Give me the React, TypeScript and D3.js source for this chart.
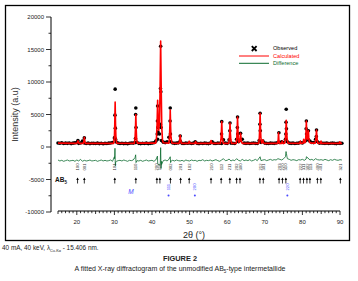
import React from "react";
import * as d3 from "d3";

const W = 358;
const H = 281;

const xTicks = [20, 30, 40, 50, 60, 70, 80, 90];
const yTicks = [-10000, -5000, 0, 5000, 10000, 15000, 20000];

// observed background on a 0.5° grid (15 … 90.5)
const obsGrid = d3.range(15, 90.51, 0.5);
const obsBaseValues = [
  620, 580, 650, 540, 600, 560, 610, 520, 590, 640,
  700, 560, 620, 900, 610, 540, 600, 520, 580, 560,
  540, 600, 520, 580, 500, 560, 530, 590, 620, 700,
  1400, 760, 600, 540, 580, 520, 560, 500, 580, 620,
  600, 680, 700, 560, 520, 580, 540, 600, 520, 560,
  600, 650, 900, 1200, 2000, 1000, 750, 680, 800, 1500,
  800, 620, 560, 600, 640, 900, 560, 540, 600, 580,
  620, 540, 600, 800, 560, 520, 580, 540, 600, 560,
  520, 600, 800, 560, 540, 600, 580, 540, 1100, 600,
  560, 1100, 600, 580, 540, 1200, 800, 1000, 1200, 600,
  560, 600, 540, 580, 620, 560, 540, 1000, 700, 900,
  600, 560, 540, 600, 580, 560, 620, 700, 700, 800,
  700, 1200, 800, 600, 560, 600, 540, 580, 600, 700,
  620, 800, 1000, 1200, 900, 700, 680, 1200, 800, 600,
  620, 580, 560, 600, 540, 580, 600, 560, 520, 580,
  560, 580,
];

// observed points on the peaks
const obsPeaks: [number, number][] = [
  [20.3, 1000], [22.0, 1400],
  [30.1, 1400], [30.15, 4900], [30.2, 8900], [30.25, 2900], [30.3, 1200],
  [35.6, 1300], [35.65, 5000], [35.7, 6000], [35.75, 3000],
  [41.4, 2000], [41.45, 4000], [41.5, 6300], [41.55, 3000], [41.6, 2300],
  [42.2, 3500], [42.25, 9000], [42.3, 15500], [42.35, 8500], [42.4, 3000],
  [44.8, 4000], [44.85, 6000], [44.9, 2000],
  [47.5, 1700],
  [58.5, 2000], [58.55, 3900],
  [60.7, 2500], [60.75, 3700],
  [62.7, 3000], [62.75, 4600], [62.8, 2000], [63.55, 2100],
  [68.7, 3500], [68.75, 5200], [68.8, 2500],
  [73.75, 2200],
  [75.6, 2000], [75.65, 3800], [75.7, 5800], [75.75, 2800],
  [81.0, 2800], [81.05, 4000], [81.1, 2000], [81.6, 2500],
  [83.7, 1600], [83.75, 2600],
];

// calculated profile
const calculated: [number, number][] = [
  [15, 600], [20.0, 560], [20.15, 700], [20.3, 950], [20.45, 700], [20.6, 560],
  [21.7, 560], [21.85, 800], [22.0, 1500], [22.15, 800], [22.3, 560],
  [29.8, 560], [30.0, 1500], [30.1, 3500], [30.2, 6900], [30.3, 3500], [30.4, 1500], [30.6, 600],
  [35.3, 560], [35.5, 1400], [35.6, 2800], [35.7, 5000], [35.8, 2800], [35.9, 1300], [36.1, 600],
  [41.0, 600], [41.2, 1500], [41.35, 3500], [41.5, 7200], [41.65, 3800], [41.8, 2600], [42.0, 4000],
  [42.15, 9000], [42.3, 16300], [42.45, 9000], [42.6, 3000], [42.8, 1000], [43.0, 650],
  [44.5, 600], [44.65, 1500], [44.75, 3200], [44.85, 5700], [44.95, 3200], [45.05, 1500], [45.3, 600],
  [47.2, 560], [47.35, 1000], [47.5, 1800], [47.65, 1000], [47.8, 560],
  [49.7, 560], [49.9, 900], [50.1, 560],
  [51.4, 560], [51.6, 850], [51.8, 560],
  [55.5, 560], [55.7, 1000], [55.9, 560],
  [58.2, 560], [58.35, 1200], [58.45, 2200], [58.55, 3900], [58.65, 2200], [58.75, 1200], [58.95, 560],
  [60.4, 560], [60.55, 1200], [60.65, 2100], [60.75, 3700], [60.85, 2100], [60.95, 1200], [61.15, 560],
  [62.4, 560], [62.55, 1400], [62.65, 2600], [62.75, 4600], [62.85, 2600], [62.95, 1400], [63.1, 700],
  [63.35, 900], [63.45, 1500], [63.55, 2100], [63.65, 1500], [63.75, 900], [64.0, 560],
  [68.4, 560], [68.55, 1500], [68.65, 3000], [68.75, 5200], [68.85, 3000], [68.95, 1500], [69.15, 600],
  [69.4, 700], [69.5, 1100], [69.6, 700], [69.8, 560],
  [73.4, 560], [73.55, 1000], [73.65, 2200], [73.75, 1000], [73.9, 560],
  [74.5, 560], [74.65, 900], [74.8, 560],
  [75.3, 600], [75.45, 1200], [75.6, 2400], [75.7, 4100], [75.8, 2400], [75.95, 1200], [76.2, 600],
  [79.3, 560], [79.45, 900], [79.6, 560],
  [80.2, 600], [80.35, 1200], [80.5, 700], [80.8, 700], [80.95, 2000], [81.05, 4000], [81.15, 2000],
  [81.3, 1200], [81.5, 1500], [81.6, 2500], [81.7, 1400], [81.9, 700], [82.3, 600],
  [83.4, 600], [83.6, 1300], [83.75, 2600], [83.9, 1300], [84.1, 600],
  [84.8, 560], [84.95, 900], [85.1, 560],
  [89.8, 560], [89.95, 800], [90.1, 560], [90.5, 560],
];

// difference curve on a 0.5° grid plus the spikes at the peaks
const diffValues = [
  -2000, -2150, -2050, -2200, -2100, -2000, -2150, -2100, -2050, -2200,
  -2000, -2150, -1900, -2200, -2050, -2150, -2100, -2000, -2150, -2100,
  -2050, -2200, -2100, -2000, -2150, -2050, -2150, -2100, -2000, -2200,
  -1500, -2200, -2100, -2050, -2150, -2000, -2100, -2200, -2050, -2100,
  -2000, -1600, -2100, -2150, -2050, -2200, -2100, -2000, -2150, -2100,
  -2050, -2200, -2000, -2300, -2800, -2200, -2100, -2000, -2150, -1900,
  -2200, -2050, -2150, -2000, -2100, -2150, -2050, -2200, -2000, -2100,
  -2150, -2000, -2100, -2050, -2200, -2050, -2100, -1950, -2150, -2050,
  -2100, -2000, -2150, -2050, -1950, -2100, -2200, -2000, -1800, -2100,
  -2050, -1850, -2150, -2000, -2100, -1800, -2050, -2150, -1900, -2100,
  -2000, -2100, -1950, -2150, -2050, -1900, -2100, -1700, -2100, -2000,
  -1950, -2100, -2000, -1900, -2050, -1950, -2000, -1800, -1900, -2000,
  -1800, -1500, -1800, -1900, -2050, -1950, -2000, -2100, -1950, -2000,
  -1900, -2050, -1850, -1700, -2000, -1900, -2050, -1800, -1950, -2000,
  -1950, -2050, -1900, -2000, -2100, -1950, -2050, -1900, -2000, -2050,
  -1950, -2000,
];
const diffSpikes: [number, number][] = [
  [30.05, -1800], [30.15, -200], [30.25, -2900], [30.35, -2300],
  [35.65, -1200], [35.75, -2400],
  [41.45, -1400], [41.55, -2600], [42.2, -2500], [42.3, -100], [42.4, -3300], [42.55, -2700],
  [44.85, -1500], [44.95, -2400],
  [68.75, -1500],
  [75.65, -700], [75.75, -1000], [75.9, -1500],
  [81.05, -1500],
];

// Bragg reflections
const ab5Positions = [20.2, 22.0, 30.1, 35.7, 41.3, 42.1, 44.9, 47.6, 49.9, 55.7, 58.4, 60.7, 62.5, 63.4,
  68.7, 69.6, 73.8, 74.7, 75.6, 79.4, 80.3, 81.2, 82.0, 84.0, 84.9, 90.1];
const ab5Labels = ["100", "001", "101", "110", "200", "111", "002", "201", "102", "210", "112", "211", "202", "300",
  "212", "301", "203", "220", "310", "222", "311", "302", "113", "400", "401", "321"];
const mPositions = [44.4, 51.4, 76.0];
const mLabels = ["111", "200", "220"];

const FONT = "Arial, 'Liberation Sans', sans-serif";
const GREEN = "#0b6b2e";
const BLUE = "#4a4aff";

export default function App() {
  const x = d3.scaleLinear().domain([15, 90]).range([58, 340]);
  const y = d3.scaleLinear().domain([-10000, 20000]).range([212, 17]);

  const obsBase: [number, number][] = obsGrid.map((t, i) => [t, obsBaseValues[i]]);
  const observed = obsBase.concat(obsPeaks);
  const diff = obsGrid
    .map((t, i) => [t, diffValues[i]] as [number, number])
    .concat(diffSpikes)
    .sort((a, b) => a[0] - b[0]);

  const line = d3
    .line<[number, number]>()
    .x((d) => x(d[0]))
    .y((d) => y(d[1]));

  const minorX = d3.range(15, 90.01, 1);
  const minorY = d3.range(-10000, 20001, 2500);
  const axisY = 211;

  return (
    <svg width={W} height={H} style={{ position: "absolute", left: 0, top: 0 }} fontFamily={FONT}>
      <rect x={0} y={0} width={W} height={H} fill="#fff" />
      <rect x={5.5} y={5.5} width={344} height={235} fill="none" stroke="#000" strokeWidth={1.3} />

      {/* y axis */}
      <line x1={51} x2={51} y1={y(20000)} y2={y(-10000)} stroke="#000" strokeWidth={1} />
      {minorY.map((v) => (
        <line key={"my" + v} x1={v % 5000 === 0 ? 46 : 48.5} x2={51} y1={y(v)} y2={y(v)} stroke="#000" strokeWidth={0.8} />
      ))}
      {yTicks.map((v) => (
        <text key={"ty" + v} x={44} y={y(v)} dy="0.35em" textAnchor="end" fontSize={6} fill="#222">
          {v}
        </text>
      ))}

      {/* x axis */}
      <line x1={x(15)} x2={x(90)} y1={axisY} y2={axisY} stroke="#000" strokeWidth={1} />
      {minorX.map((v) => (
        <line key={"mx" + v} x1={x(v)} x2={x(v)} y1={axisY} y2={axisY + (v % 10 === 0 ? 4 : v % 5 === 0 ? 3 : 2.2)} stroke="#000" strokeWidth={0.8} />
      ))}
      {xTicks.map((v) => (
        <text key={"tx" + v} x={x(v)} y={222} dy="0.35em" textAnchor="middle" fontSize={6} fill="#222">
          {v}
        </text>
      ))}

      {/* axis titles */}
      <text transform={`translate(18,${(17 + 212) / 2}) rotate(-90)`} textAnchor="middle" fontSize={9} fill="#333">
        Intensity (a.u)
      </text>
      <text x={194} y={235} dy="0.35em" textAnchor="middle" fontSize={9} fill="#222">
        2θ (°)
      </text>

      {/* data */}
      <g>
        {observed.map((d, i) => (
          <circle key={"o" + i} cx={x(d[0])} cy={y(d[1])} r={1.8} fill="#000" />
        ))}
        <path d={line(calculated) || ""} fill="none" stroke="#ff0000" strokeWidth={1.6} strokeLinejoin="round" />
        <path d={line(diff) || ""} fill="none" stroke={GREEN} strokeWidth={0.8} />
      </g>

      {/* reflections */}
      <text x={55} y={180} dy="0.35em" fontSize={6.5} fontWeight="bold" fill="#111">
        AB<tspan fontSize={4.5} dy="1.5">5</tspan>
      </text>
      {ab5Positions.map((p, i) => (
        <g key={"ab" + i}>
          <text transform={`translate(${x(p) + 1.6},167) rotate(-90)`} textAnchor="middle" fontSize={4.2} fill="#333">
            {ab5Labels[i]}
          </text>
          <line x1={x(p)} x2={x(p)} y1={178.5} y2={183.5} stroke="#000" strokeWidth={0.8} />
          <path d={`M${x(p) - 1.3},${180} L${x(p)},${177.5} L${x(p) + 1.3},${180} Z`} fill="#000" />
        </g>
      ))}
      <text x={131} y={192} dy="0.35em" textAnchor="middle" fontSize={6.5} fontStyle="italic" fill={BLUE}>
        M
      </text>
      {mPositions.map((p, i) => (
        <g key={"m" + i}>
          <text transform={`translate(${x(p) + 1.6},187) rotate(-90)`} textAnchor="middle" fontSize={4.2} fill={BLUE}>
            {mLabels[i]}
          </text>
          <circle cx={x(p)} cy={195.5} r={1} fill={BLUE} />
        </g>
      ))}

      {/* legend */}
      <g>
        <path d="M251.8,46.2 L256.6,51 M256.6,46.2 L251.8,51" stroke="#000" strokeWidth={1.8} />
        <text x={273} y={48.5} dy="0.35em" fontSize={5.6} fill="#000">Observed</text>
        <line x1={239} x2={269} y1={56} y2={56} stroke="#ff0000" strokeWidth={1} />
        <text x={273} y={56} dy="0.35em" fontSize={5.6} fill="#ff0000">Calculated</text>
        <line x1={239} x2={269} y1={63.3} y2={63.3} stroke={GREEN} strokeWidth={1} />
        <text x={273} y={63.3} dy="0.35em" fontSize={5.6} fill={GREEN}>Difference</text>
      </g>

      {/* caption */}
      <text x={2} y={250} fontSize={6.4} fill="#222">
        40 mA, 40 keV, λ<tspan fontSize={3.8} dy="1.5">Cu-Kα</tspan>
        <tspan dy="-1.5"> - 15.406 nm.</tspan>
      </text>
      <text x={180} y={261} textAnchor="middle" fontSize={7.4} fontWeight="bold" fill="#222">
        FIGURE 2
      </text>
      <text x={180} y={271} textAnchor="middle" fontSize={7} fill="#222">
        A fitted X-ray diffractogram of the unmodified AB<tspan fontSize={4.5} dy="1.5">5</tspan>
        <tspan dy="-1.5">-type intermetallide</tspan>
      </text>
    </svg>
  );
}
